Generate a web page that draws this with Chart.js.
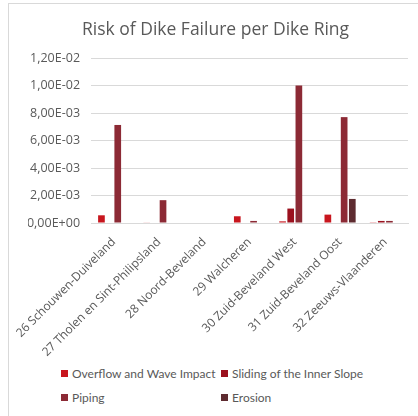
<!DOCTYPE html>
<html>
<head>
<meta charset="utf-8">
<script src="https://cdn.jsdelivr.net/npm/chart.js@4.4.0/dist/chart.umd.min.js"></script>
<style>
    html, body { margin: 0; padding: 0; background: #fff; width: 418px; height: 416px; overflow: hidden; }
    .frame { position: absolute; left: 8px; top: 3px; width: 480px; height: 480px;
             border-left: 1px solid #d9d9d9; border-top: 1px solid #d9d9d9; }
    .chart-box { position: absolute; left: 9px; top: 4px; width: 409px; height: 356px; }
    .legend { position: absolute; left: 61px; top: 366px; display: grid;
              grid-template-columns: 160px auto; row-gap: 9px;
              font: 12px Lato, sans-serif; color: #595959; }
    .legend span.box { display: inline-block; width: 7px; height: 7px; margin-right: 4px; vertical-align: 1px; }
</style>
</head>
<body>
<div class="frame"></div>
<div class="chart-box"><canvas id="dikeChart"></canvas></div>
<div class="legend" id="legend"></div>
<script>
// dike rings
let dikeRings = [
    "26 Schouwen-Duiveland",
    "27 Tholen en Sint-Philipsland",
    "28 Noord-Beveland",
    "29 Walcheren",
    "30 Zuid-Beveland West",
    "31 Zuid-Beveland Oost",
    "32 Zeeuws-Vlaanderen"
];

// failure probability per mechanism
let overflowWave = [5.6e-4, 3e-5, 0, 4.9e-4, 1.2e-4, 6.1e-4, 2e-5];
let slidingInner = [0, 0, 0, 0, 1.05e-3, 0, 1.5e-4];
let piping = [7.13e-3, 1.66e-3, 0, 1.5e-4, 1.0e-2, 7.7e-3, 1.5e-4];
let erosion = [0, 0, 0, 0, 0, 1.75e-3, 0];

let seriesNames = ["Overflow and Wave Impact", "Sliding of the Inner Slope", "Piping", "Erosion"];
let seriesColors = ["#c8161e", "#9b111e", "#8c2a35", "#5e2b30"];

let yTicks = [0, 0.002, 0.004, 0.006, 0.008, 0.010, 0.012];

// excel style scientific label, e.g. 1,20E-02
function sciLabel(v) {
    if (Math.abs(v) < 1e-12) return "0,00E+00";
    let parts = v.toExponential(2).split("e");
    let sign = parts[1][0] === "-" ? "-" : "+";
    let digits = parts[1].replace(/[+-]/, "").padStart(2, "0");
    return parts[0].replace(".", ",") + "E" + sign + digits;
}

document.addEventListener("DOMContentLoaded", () => {
    let allSeries = [overflowWave, slidingInner, piping, erosion];
    let datasets = allSeries.map((values, i) => ({
        label: seriesNames[i],
        data: values,
        backgroundColor: seriesColors[i],
        categoryPercentage: 0.72,
        barPercentage: 0.82
    }));

    let ctx = document.getElementById("dikeChart").getContext("2d");
    new Chart(ctx, {
        type: "bar",
        data: { labels: dikeRings, datasets: datasets },
        options: {
            responsive: true,
            maintainAspectRatio: false,
            animation: false,
            layout: { padding: { left: 14, right: 10, top: 0, bottom: 0 } },
            plugins: {
                legend: { display: false },
                tooltip: { enabled: false },
                title: {
                    display: true,
                    text: "Risk of Dike Failure per Dike Ring",
                    color: "#595959",
                    font: { family: "Open Sans", size: 17.5, weight: "normal" },
                    padding: { top: 16, bottom: 17 }
                }
            },
            scales: {
                x: {
                    grid: { display: false },
                    border: { color: "#d9d9d9" },
                    afterFit: (scale) => { scale.height = 137; },
                    ticks: {
                        color: "#595959",
                        font: { family: "Open Sans", size: 12 },
                        minRotation: 45,
                        maxRotation: 45,
                        autoSkip: false,
                        padding: 4
                    }
                },
                y: {
                    min: 0,
                    max: 0.012,
                    afterBuildTicks: (scale) => {
                        scale.ticks = yTicks.map(v => ({ value: v }));
                    },
                    afterFit: (scale) => { scale.width = 63; },
                    grid: { color: "#d9d9d9", drawTicks: false },
                    border: { display: false },
                    ticks: {
                        color: "#595959",
                        font: { family: "Open Sans", size: 12.5 },
                        padding: 11,
                        callback: (v) => sciLabel(v)
                    }
                }
            }
        }
    });

    // legend laid out in two columns
    let legend = document.getElementById("legend");
    seriesNames.forEach((name, i) => {
        let item = document.createElement("div");
        item.innerHTML = '<span class="box" style="background:' + seriesColors[i] + '"></span>' + name;
        legend.appendChild(item);
    });
});
</script>
</body>
</html>
